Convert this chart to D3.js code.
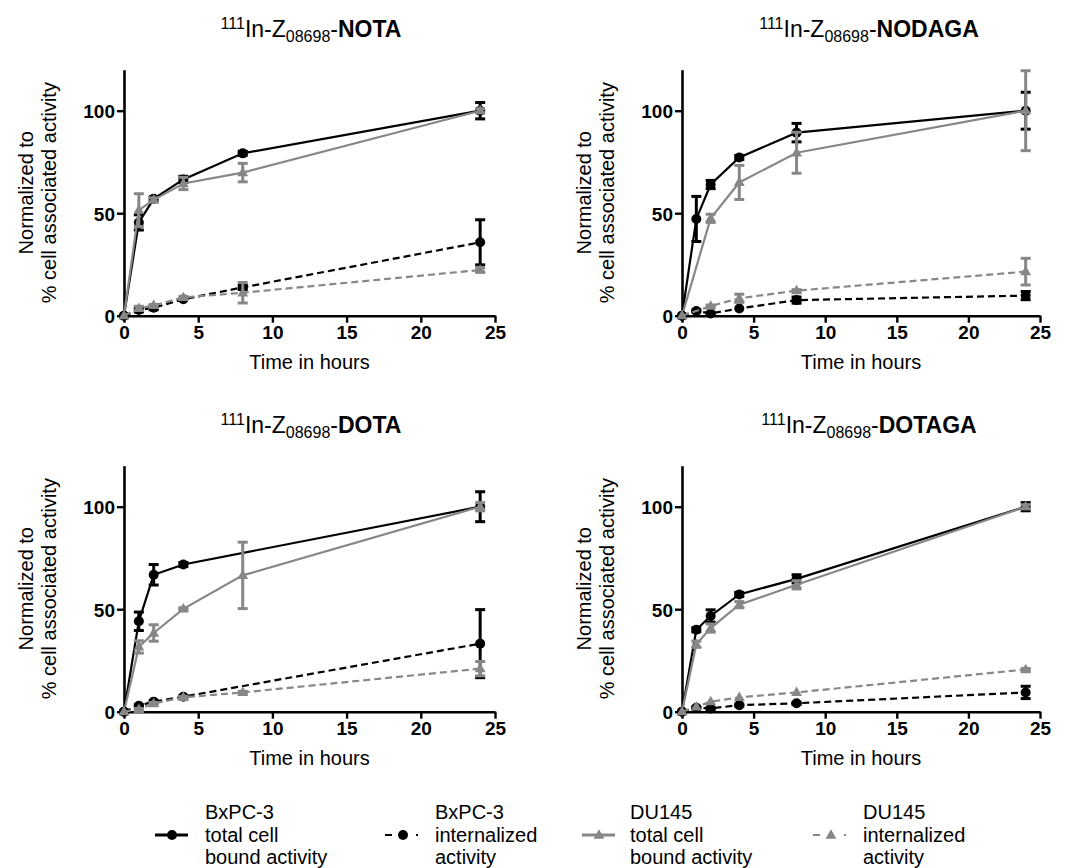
<!DOCTYPE html>
<html>
<head>
<meta charset="utf-8">
<script src="https://cdn.jsdelivr.net/npm/d3@7"></script>
<style>
  body { margin: 0; background: #fff; }
  svg { font-family: "Liberation Sans", Arial, sans-serif; }
</style>
</head>
<body>
<svg id="chart" width="1082" height="868"></svg>
<script>
// time points (hours)
const times = [0, 1, 2, 4, 8, 24];

// 111In-Z08698-NOTA
const notaBxTotal = [0, 45.5, 57, 66.5, 79.2, 100];
const notaBxTotalErr = [0, 3.7, 1, 1.5, 1, 4];
const notaBxInt = [0, 2.8, 3.9, 8, 13.8, 35.8];
const notaBxIntErr = [0, 1, 1, 0, 1, 11];
const notaDuTotal = [0, 51.5, 56.5, 64.5, 69.8, 100];
const notaDuTotalErr = [0, 8, 1, 3, 4.5, 1];
const notaDuInt = [0, 3.6, 5, 8.9, 11.2, 22.3];
const notaDuIntErr = [0, 1, 0.5, 0.5, 5, 1];

// 111In-Z08698-NODAGA
const nodagaBxTotal = [0, 47.2, 64, 77.2, 89.3, 100];
const nodagaBxTotalErr = [0, 11, 2, 1, 4.5, 9];
const nodagaBxInt = [0, 2.3, 1.1, 3.5, 7.6, 9.8];
const nodagaBxIntErr = [0, 0.5, 0.5, 0, 1.5, 2];
const nodagaDuTotal = [0, null, 47.5, 65, 79.5, 100];
const nodagaDuTotalErr = [0, 0, 2, 8.3, 10, 19.5];
const nodagaDuInt = [0, null, 4.7, 8.5, 12.2, 21.5];
const nodagaDuIntErr = [0, 0, 0.5, 2, 0.5, 6.5];

// 111In-Z08698-DOTA
const dotaBxTotal = [0, 44.1, 66.8, 71.8, null, 100];
const dotaBxTotalErr = [0, 4.5, 5, 1, 0, 7.3];
const dotaBxInt = [0, 2.9, 4.9, 7.3, null, 33.2];
const dotaBxIntErr = [0, 0.5, 0.5, 0.5, 0, 16.6];
const dotaDuTotal = [0, 31.6, 38.4, 50.2, 66.5, 100];
const dotaDuTotalErr = [0, 3, 4, 0.5, 16.2, 2];
const dotaDuInt = [0, 1.1, 4, 7, 9.4, 21];
const dotaDuIntErr = [0, 0.5, 0.5, 0.5, 0.5, 3.5];

// 111In-Z08698-DOTAGA
const dotagaBxTotal = [0, 40, 46.7, 57.2, 64.8, 100];
const dotagaBxTotalErr = [0, 1, 3, 1, 2, 2];
const dotagaBxInt = [0, 1.9, 1.6, 3.2, 4.1, 9.4];
const dotagaBxIntErr = [0, 0.5, 0.5, 0.5, 0.5, 3];
const dotagaDuTotal = [0, 32.9, 40.8, 52.2, 61.9, 100];
const dotagaDuTotalErr = [0, 1.5, 2, 1.5, 2, 1];
const dotagaDuInt = [0, 2.4, 4.9, 7, 9.4, 20.6];
const dotagaDuIntErr = [0, 0, 0, 0, 0, 0.5];

const panelNames = ["NOTA", "NODAGA", "DOTA", "DOTAGA"];
const xTicks = [0, 5, 10, 15, 20, 25];
const yTicks = [0, 50, 100];
const legendLabels = [
    ["BxPC-3", "total cell", "bound activity"],
    ["BxPC-3", "internalized", "activity"],
    ["DU145", "total cell", "bound activity"],
    ["DU145", "internalized", "activity"]
];

const GRAY = "#878787";
const seriesStyle = [
    {color: "black", dashed: false, marker: "circle"},
    {color: GRAY, dashed: false, marker: "triangle"},
    {color: "black", dashed: true, marker: "circle"},
    {color: GRAY, dashed: true, marker: "triangle"}
];

// built from the named arrays above (draw order: totals then internalized)
const panelSeries = [
    [[notaBxTotal, notaBxTotalErr], [notaDuTotal, notaDuTotalErr], [notaBxInt, notaBxIntErr], [notaDuInt, notaDuIntErr]],
    [[nodagaBxTotal, nodagaBxTotalErr], [nodagaDuTotal, nodagaDuTotalErr], [nodagaBxInt, nodagaBxIntErr], [nodagaDuInt, nodagaDuIntErr]],
    [[dotaBxTotal, dotaBxTotalErr], [dotaDuTotal, dotaDuTotalErr], [dotaBxInt, dotaBxIntErr], [dotaDuInt, dotaDuIntErr]],
    [[dotagaBxTotal, dotagaBxTotalErr], [dotagaDuTotal, dotagaDuTotalErr], [dotagaBxInt, dotagaBxIntErr], [dotagaDuInt, dotagaDuIntErr]]
];

// layout of the 2x2 grid
const layout = [
    {left: 124, width: 371, top: 0},
    {left: 682, width: 358, top: 0},
    {left: 124, width: 371, top: 396},
    {left: 682, width: 358, top: 396}
];

const svg = d3.select("#chart");

function drawMarker(g, type, cx, cy, color) {
    if (type === "circle") {
        g.append("circle").attr("cx", cx).attr("cy", cy).attr("r", 5).attr("fill", color);
    } else {
        g.append("path")
            .attr("d", d3.symbol().type(d3.symbolTriangle).size(52))
            .attr("transform", "translate(" + cx + "," + (cy + 0.5) + ")")
            .attr("fill", color);
    }
}

function drawTitle(g, x, y, name) {
    const t = g.append("text")
        .attr("x", x).attr("y", y)
        .attr("text-anchor", "middle")
        .style("font-size", "23px");
    t.append("tspan").text("111").style("font-size", "16px").attr("dy", -8);
    t.append("tspan").text("In-Z").attr("dy", 8);
    t.append("tspan").text("08698").style("font-size", "16px").attr("dy", 5);
    t.append("tspan").text("-").attr("dy", -5);
    t.append("tspan").text(name).style("font-weight", "bold");
}

panelNames.forEach(function(name, p) {
    const L = layout[p];
    const g = svg.append("g");
    const x = d3.scaleLinear().domain([0, 25]).range([L.left, L.left + L.width]);
    const y = d3.scaleLinear().domain([0, 120]).range([L.top + 315.7, L.top + 69.7]);

    drawTitle(g, L.left + 187, L.top + 37, name);

    // axes
    const xAxis = g.append("g")
        .attr("transform", "translate(0," + y(0) + ")")
        .call(d3.axisBottom(x).tickValues(xTicks).tickSize(7).tickSizeOuter(0).tickPadding(3));
    const yAxis = g.append("g")
        .attr("transform", "translate(" + x(0) + ",0)")
        .call(d3.axisLeft(y).tickValues(yTicks).tickSize(7).tickSizeOuter(0).tickPadding(2));
    [xAxis, yAxis].forEach(function(a) {
        a.select(".domain").attr("stroke-width", 2.6);
        a.selectAll(".tick line").attr("stroke-width", 2.4);
        a.selectAll(".tick text")
            .attr("fill", "black")
            .style("font-size", "19px")
            .style("font-weight", "bold")
            .style("font-family", "'Liberation Sans', Arial, sans-serif");
    });
    yAxis.selectAll(".tick text").attr("dy", "0.36em");

    // axis labels
    g.append("text")
        .attr("x", (x(0) + x(25)) / 2).attr("y", L.top + 369)
        .attr("text-anchor", "middle")
        .style("font-size", "20px")
        .text("Time in hours");
    const yMid = (y(0) + y(120)) / 2;
    [["Normalized to", -91], ["% cell associated activity", -68]].forEach(function(lbl) {
        g.append("text")
            .attr("transform", "translate(" + (L.left + lbl[1]) + "," + yMid + ") rotate(-90)")
            .attr("text-anchor", "middle")
            .style("font-size", "20px")
            .text(lbl[0]);
    });

    // series
    panelSeries[p].forEach(function(s, i) {
        const st = seriesStyle[i];
        const pts = times.map(function(t, k) { return {t: t, v: s[0][k], e: s[1][k]}; })
            .filter(function(d) { return d.v !== null; });
        const sg = g.append("g");

        sg.append("path")
            .datum(pts)
            .attr("fill", "none")
            .attr("stroke", st.color)
            .attr("stroke-width", 2.2)
            .attr("stroke-dasharray", st.dashed ? "7,4" : null)
            .attr("d", d3.line().x(function(d) { return x(d.t); }).y(function(d) { return y(d.v); }));

        pts.forEach(function(d) {
            if (d.e > 0) {
                const y1 = y(d.v - d.e), y2 = y(d.v + d.e), cx = x(d.t);
                sg.append("line").attr("x1", cx).attr("x2", cx).attr("y1", y1).attr("y2", y2)
                    .attr("stroke", st.color).attr("stroke-width", 3);
                [y1, y2].forEach(function(yy) {
                    sg.append("line").attr("x1", cx - 5).attr("x2", cx + 5).attr("y1", yy).attr("y2", yy)
                        .attr("stroke", st.color).attr("stroke-width", 3);
                });
            }
            drawMarker(sg, st.marker, x(d.t), y(d.v), st.color);
        });
    });
});

// legend
const legendX = [155, 385, 582, 813];
const legendText = [205, 435, 630, 863];
const legendOrder = [0, 2, 1, 3]; // BxPC total, BxPC int, DU total, DU int
legendLabels.forEach(function(lines, i) {
    const st = seriesStyle[legendOrder[i]];
    const lg = svg.append("g");
    const ly = 835;
    lg.append("line")
        .attr("x1", legendX[i]).attr("x2", legendX[i] + 33)
        .attr("y1", ly).attr("y2", ly)
        .attr("stroke", st.color)
        .attr("stroke-width", st.dashed ? 2.2 : 3)
        .attr("stroke-dasharray", st.dashed ? "7,24,3" : null);
    drawMarker(lg, st.marker, legendX[i] + (st.dashed ? 18 : 17), ly, st.color);
    lines.forEach(function(txt, k) {
        lg.append("text")
            .attr("x", legendText[i]).attr("y", 819 + k * 22.5)
            .style("font-size", "20px")
            .text(txt);
    });
});
</script>
</body>
</html>
